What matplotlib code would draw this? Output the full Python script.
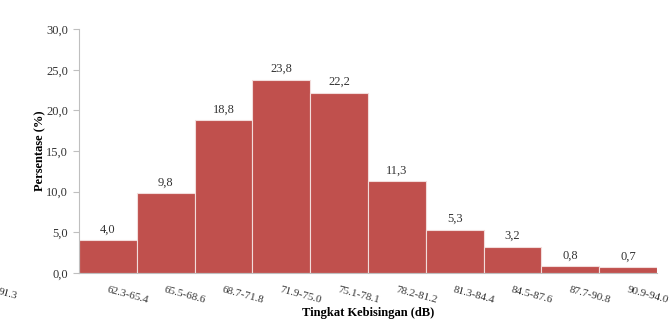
import matplotlib.pyplot as plt
import numpy as np

plt.rcParams['font.family'] = ['Liberation Serif', 'DejaVu Serif']

# Data
kelas = ['62.3-65.4', '65.5-68.6', '68.7-71.8', '71.9-75.0', '75.1-78.1',
         '78.2-81.2', '81.3-84.4', '84.5-87.6', '87.7-90.8', '90.9-94.0']
persen = [4.0, 9.8, 18.8, 23.8, 22.2, 11.3, 5.3, 3.2, 0.8, 0.7]

fig = plt.figure(figsize=(6.72, 3.23), dpi=100)
ax = fig.add_axes([0.1176, 0.1548, 0.86, 0.755])

x = np.arange(len(kelas))
ax.bar(x, persen, width=1.0, color='#C0504D', edgecolor='#F2DCDB', linewidth=0.8)

for xi, v in zip(x, persen):
    ax.text(xi, v + 0.6, f'{v:.1f}'.replace('.', ','), ha='center', va='bottom',
            fontsize=9, color='#333333')

ax.set_xlim(-0.5, len(kelas) - 0.5)
ax.set_ylim(0, 30)
ax.set_yticks(np.arange(0, 31, 5))
ax.set_yticklabels([f'{t:.1f}'.replace('.', ',') for t in np.arange(0, 31, 5)],
                   fontsize=9, color='#333333')
ax.set_xticks(x)
ax.set_xticklabels(kelas, rotation=-15, fontsize=8, ha='left', color='#333333',
                   rotation_mode='anchor', va='top')
ax.tick_params(axis='x', length=0, pad=9)
ax.tick_params(axis='y', length=4, width=0.8, color='#BFBFBF', pad=4)

for s in ['top', 'right']:
    ax.spines[s].set_visible(False)
for s in ['left', 'bottom']:
    ax.spines[s].set_color('#BFBFBF')
    ax.spines[s].set_linewidth(0.8)

ax.set_ylabel('Persentase (%)', fontsize=9, fontweight='bold', labelpad=0)
ax.set_xlabel('Tingkat Kebisingan (dB)', fontsize=9, fontweight='bold', labelpad=1)

# potongan label dari grafik sebelahnya
fig.text(-0.004, 0.088, '91.3', rotation=-15, fontsize=8, color='#333333',
         ha='left', va='center')

fig.savefig('out.png', dpi=100)
